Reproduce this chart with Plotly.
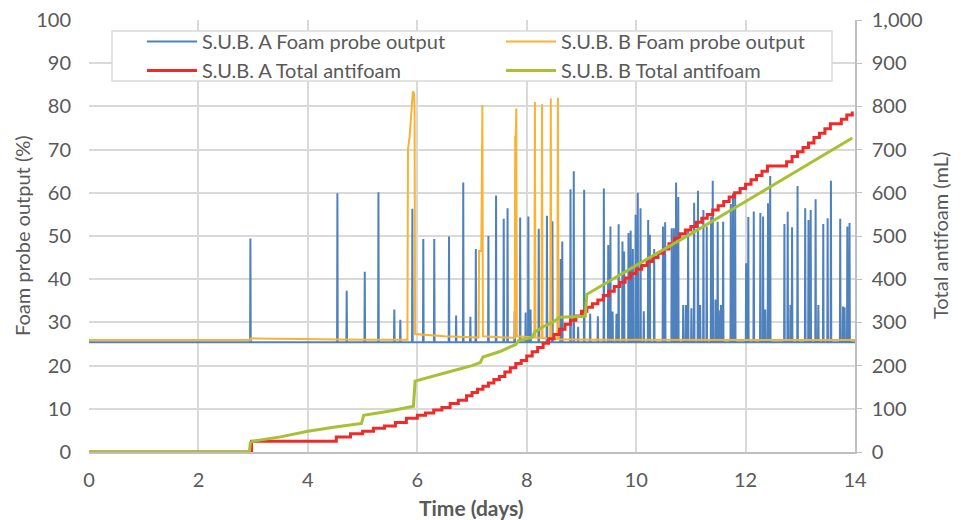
import plotly.graph_objects as go

# ---------------- data ----------------
# S.U.B. A foam probe: baseline plus spikes (time in days, peak %)
A_base = 25.4
A_spike_t = [2.95, 4.54, 4.71, 5.04, 5.29, 5.58, 5.69, 5.91, 6.11, 6.31, 6.58, 6.71, 6.84, 6.97,
             7.07, 7.30, 7.44, 7.58, 7.65, 7.78, 7.88, 7.98, 8.03, 8.07, 8.22, 8.37, 8.47, 8.62,
             8.65, 8.80, 8.86, 8.94, 9.05, 9.16, 9.30, 9.41, 9.49, 9.53, 9.57, 9.64, 9.68, 9.75,
             9.78, 9.86, 9.90, 9.94, 9.99, 10.03, 10.08, 10.14, 10.22, 10.25, 10.33, 10.49, 10.53,
             10.65, 10.69, 10.73, 10.77, 10.86, 10.91, 10.95, 11.01, 11.06, 11.13, 11.17, 11.23,
             11.29, 11.37, 11.40, 11.45, 11.49, 11.51, 11.55, 11.59, 11.73, 11.77, 11.81, 12.01,
             12.05, 12.15, 12.27, 12.32, 12.36, 12.41, 12.45, 12.71, 12.77, 12.82, 12.85, 12.95,
             13.09, 13.15, 13.19, 13.28, 13.33, 13.42, 13.50, 13.56, 13.73, 13.78, 13.81, 13.86,
             13.90]
A_spike_v = [49.4, 59.9, 37.3, 41.7, 60.1, 33.0, 30.6, 56.3, 49.3, 49.3, 49.9, 31.6, 62.4, 31.3,
             47.0, 50.0, 59.4, 54.0, 56.4, 32.6, 54.3, 32.3, 54.5, 33.0, 51.7, 54.7, 53.4, 44.7,
             48.7, 60.8, 65.0, 29.0, 60.7, 32.0, 31.4, 61.0, 47.9, 52.2, 32.5, 32.0, 52.7, 48.7,
             46.4, 50.7, 51.2, 47.0, 54.9, 60.0, 56.4, 32.6, 53.7, 50.3, 47.0, 52.2, 53.2,
             51.8, 51.8, 62.4, 59.0, 34.0, 34.0, 51.4, 33.3, 57.7, 60.5, 34.0, 56.0,
             52.2, 54.5, 62.8, 35.3, 53.3, 32.8, 34.0, 53.3, 57.4, 59.9, 59.0, 43.7,
             54.4, 55.7, 55.3, 54.5, 33.0, 57.6, 63.9, 52.8, 55.6, 34.0, 52.0, 61.6,
             56.4, 53.7, 56.0, 58.5, 34.0, 52.8, 54.1, 62.8, 54.0, 33.7, 33.5, 52.2,
             53.0]

# S.U.B. B foam probe (time in days, %)
B_t = [0.0, 2.94, 2.96, 4.0, 5.0, 5.82, 5.83, 5.86, 5.89, 5.92, 5.94, 5.95, 5.96, 6.5, 7.12,
       7.13, 7.17, 7.18, 7.19, 7.20, 7.5, 7.78, 7.79, 7.80, 7.81, 7.82, 8.14, 8.15, 8.16, 8.27,
       8.28, 8.29, 8.43, 8.44, 8.45, 8.56, 8.57, 8.58, 9.2, 14.0]
B_v = [25.9, 25.9, 26.3, 26.1, 26.0, 26.0, 70.0, 73.0, 78.0, 83.5, 83.0, 80.0, 27.3, 26.8, 26.5,
       46.5, 46.5, 80.3, 80.3, 26.8, 26.6, 26.4, 73.0, 73.0, 79.5, 26.8, 26.5, 81.0, 26.5, 26.4,
       80.5, 26.4, 26.3, 81.8, 26.3, 26.2, 82.0, 26.1, 26.0, 25.9]

# Total antifoam (mL)
redA_t = [0, 2.97, 4.52, 4.78, 5.0, 5.2, 5.4, 5.6, 5.8, 6.0, 6.15, 6.3, 6.45, 6.6, 6.75, 6.9, 7.0,
          7.1, 7.2, 7.3, 7.4, 7.5, 7.6, 7.7, 7.8, 7.9, 8.0, 8.1, 8.2, 8.3, 8.4, 8.5, 8.6, 8.7, 8.8,
          8.9, 9.0, 9.1, 9.2, 9.3, 9.4, 9.5, 9.6, 9.7, 9.8, 9.9, 10.0, 10.1, 10.2, 10.3, 10.4,
          10.5, 10.6, 10.7, 10.8, 10.9, 11.0, 11.1, 11.2, 11.3, 11.4, 11.5, 11.6, 11.7, 11.8,
          11.9, 12.0, 12.1, 12.2, 12.3, 12.4, 12.75, 12.85, 12.95, 13.05, 13.15, 13.25, 13.35,
          13.45, 13.55, 13.75, 13.85, 13.95]
redA_v = [0, 25, 35, 42, 48, 55, 60, 68, 78, 85, 90, 97, 103, 112, 120, 130, 138,
          145, 152, 160, 168, 175, 185, 195, 205, 212, 222, 232, 242, 252, 262, 272, 284, 296, 305,
          315, 326, 335, 343, 352, 362, 372, 383, 393, 403, 413, 423, 432, 441, 450, 460,
          470, 482, 495, 505, 514, 522, 532, 541, 550, 560, 570, 580, 590, 600,
          610, 620, 630, 640, 650, 662, 672, 684, 695, 705, 715, 728, 738,
          748, 760, 770, 780, 788]

greenB_t = [0, 2.93, 2.95, 3.0, 3.5, 4.0, 4.5, 4.98, 5.02, 5.5, 5.93, 5.96, 6.5, 7.0, 7.15, 7.2,
            7.5, 7.8, 7.85, 8.1, 8.15, 8.3, 8.5, 8.6, 9.07, 9.1, 10.0, 11.0, 12.0, 13.0, 13.95]
greenB_v = [0, 0, 22, 25, 35, 48, 58, 66, 85, 95, 106, 164, 183, 200, 207, 220,
            232, 249, 258, 265, 278, 290, 302, 312, 314, 365, 432, 505, 580, 655, 727]

# ---------------- build spike line for S.U.B. A ----------------
ax, ay = [0.0], [A_base]
for t, v in zip(A_spike_t, A_spike_v):
    ax += [t - 0.006, t, t + 0.006]
    ay += [A_base, v, A_base]
ax.append(14.0)
ay.append(A_base)

GRID = '#D9D9D9'
TXT = '#595959'
OFF = 8  # page body margin offsets the figure by 8 px
W, H = 961 - OFF, 520 - OFF
# plot area in screen pixels
L, R, T, B = 89, 855, 20, 452
PW, PH = R - L, B - T


def px(xs):
    return (xs - L) / PW


def py(ys):
    return (B - ys) / PH


fig = go.Figure()
fig.add_trace(go.Scatter(x=ax, y=ay, mode='lines', name='S.U.B. A Foam probe output',
                         line=dict(color='#4F81BD', width=2)))
fig.add_trace(go.Scatter(x=B_t, y=B_v, mode='lines', name='S.U.B. B Foam probe output',
                         line=dict(color='#F9B233', width=2)))
fig.add_trace(go.Scatter(x=redA_t, y=redA_v, mode='lines', name='S.U.B. A Total antifoam',
                         yaxis='y2', line=dict(color='#EE2B2B', width=3, shape='hv')))
fig.add_trace(go.Scatter(x=greenB_t, y=greenB_v, mode='lines', name='S.U.B. B Total antifoam',
                         yaxis='y2', line=dict(color='#A7C034', width=3)))

# legend frame (white box with light border)
fig.add_shape(type='rect', xref='paper', yref='paper', x0=px(112), x1=px(832), y0=py(81), y1=py(31),
              fillcolor='white', line=dict(color=GRID, width=1.5), layer='above')

annos = [
    dict(text='Foam probe output (%)', x=px(22), y=0.5, textangle=-90,
         font=dict(size=20, color=TXT)),
    dict(text='Total antifoam (mL)', x=px(940), y=0.5, textangle=-90,
         font=dict(size=20, color=TXT)),
    dict(text='<b>Time (days)</b>', x=px(471), y=py(507),
         font=dict(size=21, color=TXT)),
]
for a in annos:
    fig.add_annotation(xref='paper', yref='paper', showarrow=False,
                       xanchor='center', yanchor='middle', **a)

fig.update_layout(
    width=W, height=H,
    margin=dict(l=L - OFF, r=W - (R - OFF), t=T - OFF, b=H - (B - OFF), autoexpand=False),
    paper_bgcolor='white', plot_bgcolor='white',
    font=dict(family='Lato', size=20, color=TXT),
    showlegend=True,
    legend=dict(orientation='h', x=px(142), y=py(22), xanchor='left', yanchor='top',
                borderwidth=0, bgcolor='rgba(0,0,0,0)',
                entrywidth=294, itemwidth=50, font=dict(size=20, color=TXT),
                tracegroupgap=0),
    xaxis=dict(range=[0, 14], dtick=2, tick0=0, showgrid=True, gridcolor=GRID, gridwidth=1.5,
               zeroline=False, showline=True, linecolor='#BFBFBF', linewidth=1.5,
               ticks='', ticklabelstandoff=9, tickfont=dict(size=20, color=TXT),
               ticklabeloverflow='allow', automargin=False),
    yaxis=dict(range=[0, 100], dtick=10, showgrid=True, gridcolor=GRID, gridwidth=1.5,
               zeroline=False, showline=False, ticks='', ticklabelstandoff=17,
               tickfont=dict(size=20, color=TXT), ticklabeloverflow='allow', automargin=False),
    yaxis2=dict(range=[0, 1000], dtick=100, overlaying='y', side='right', showgrid=False,
                zeroline=False, showline=True, linecolor='#BFBFBF', linewidth=1.5,
                ticks='outside', ticklen=5, tickcolor='#BFBFBF', tickformat=',d',
                ticklabelstandoff=6, tickfont=dict(size=20, color=TXT),
                ticklabeloverflow='allow', automargin=False),
)

fig.write_html('out.html')
